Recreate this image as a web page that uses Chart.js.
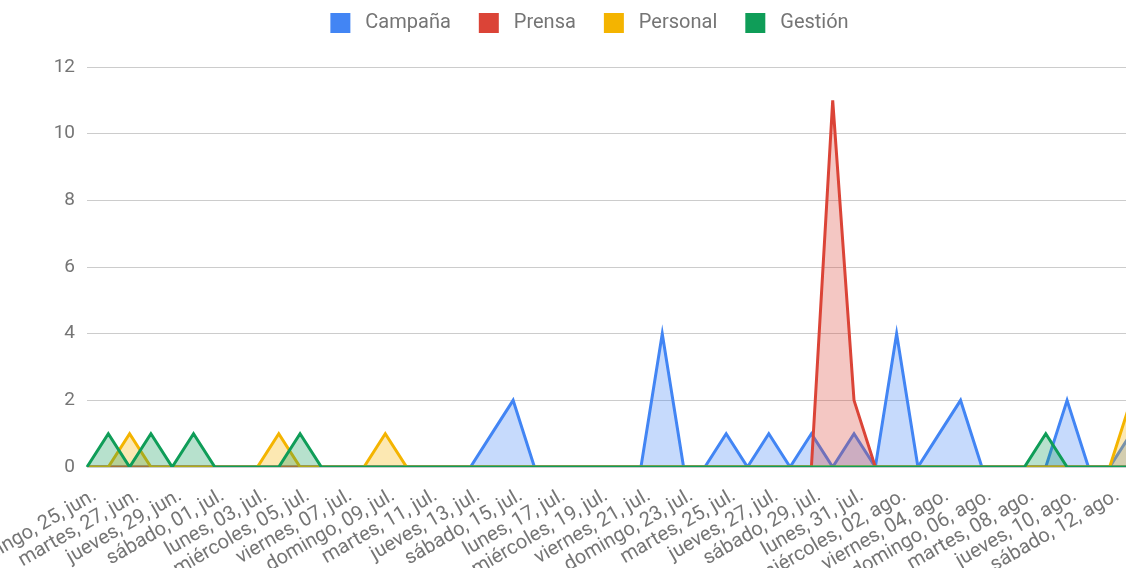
<!DOCTYPE html>
<html lang="es">
<head>
<meta charset="utf-8">
<title>Campaña, Prensa, Personal, Gestión</title>
<script src="https://cdn.jsdelivr.net/npm/chart.js@4.4.1/dist/chart.umd.min.js"></script>
<style>
  html, body { margin: 0; padding: 0; background: #ffffff; overflow: hidden; }
  #wrap { position: relative; width: 1164px; height: 568px; }
</style>
</head>
<body>
<div id="wrap"><canvas id="chart"></canvas></div>
<script>
// Daily categories, 25 jun. – 13 ago.
const dias = [
  'domingo, 25, jun.', 'lunes, 26, jun.', 'martes, 27, jun.', 'miércoles, 28, jun.', 'jueves, 29, jun.',
  'viernes, 30, jun.', 'sábado, 01, jul.', 'domingo, 02, jul.', 'lunes, 03, jul.', 'martes, 04, jul.',
  'miércoles, 05, jul.', 'jueves, 06, jul.', 'viernes, 07, jul.', 'sábado, 08, jul.', 'domingo, 09, jul.',
  'lunes, 10, jul.', 'martes, 11, jul.', 'miércoles, 12, jul.', 'jueves, 13, jul.', 'viernes, 14, jul.',
  'sábado, 15, jul.', 'domingo, 16, jul.', 'lunes, 17, jul.', 'martes, 18, jul.', 'miércoles, 19, jul.',
  'jueves, 20, jul.', 'viernes, 21, jul.', 'sábado, 22, jul.', 'domingo, 23, jul.', 'lunes, 24, jul.',
  'martes, 25, jul.', 'miércoles, 26, jul.', 'jueves, 27, jul.', 'viernes, 28, jul.', 'sábado, 29, jul.',
  'domingo, 30, jul.', 'lunes, 31, jul.', 'martes, 01, ago.', 'miércoles, 02, ago.', 'jueves, 03, ago.',
  'viernes, 04, ago.', 'sábado, 05, ago.', 'domingo, 06, ago.', 'lunes, 07, ago.', 'martes, 08, ago.',
  'miércoles, 09, ago.', 'jueves, 10, ago.', 'viernes, 11, ago.', 'sábado, 12, ago.', 'domingo, 13, ago.'
];

const campana = [
  0, 0, 0, 0, 0,  0, 0, 0, 0, 0,  0, 0, 0, 0, 0,  0, 0, 0, 0, 1,
  2, 0, 0, 0, 0,  0, 0, 4, 0, 0,  1, 0, 1, 0, 1,  0, 1, 0, 4, 0,
  1, 2, 0, 0, 0,  0, 2, 0, 0, 1
];
const prensa = [
  0, 0, 0, 0, 0,  0, 0, 0, 0, 0,  0, 0, 0, 0, 0,  0, 0, 0, 0, 0,
  0, 0, 0, 0, 0,  0, 0, 0, 0, 0,  0, 0, 0, 0, 0, 11, 2, 0, 0, 0,
  0, 0, 0, 0, 0,  0, 0, 0, 0, 0
];
const personal = [
  0, 0, 1, 0, 0,  0, 0, 0, 0, 1,  0, 0, 0, 0, 1,  0, 0, 0, 0, 0,
  0, 0, 0, 0, 0,  0, 0, 0, 0, 0,  0, 0, 0, 0, 0,  0, 0, 0, 0, 0,
  0, 0, 0, 0, 0,  0, 0, 0, 0, 2
];
const gestion = [
  0, 1, 0, 1, 0,  1, 0, 0, 0, 0,  1, 0, 0, 0, 0,  0, 0, 0, 0, 0,
  0, 0, 0, 0, 0,  0, 0, 0, 0, 0,  0, 0, 0, 0, 0,  0, 0, 0, 0, 0,
  0, 0, 0, 0, 0,  1, 0, 0, 0, 0
];

const ejeY = { min: 0, max: 12, paso: 2 };

const series = [
  { nombre: 'Campaña',  datos: campana,  color: '#4285F4', relleno: 'rgba(66,133,244,0.30)' },
  { nombre: 'Prensa',   datos: prensa,   color: '#DB4437', relleno: 'rgba(219,68,55,0.30)' },
  { nombre: 'Personal', datos: personal, color: '#F4B400', relleno: 'rgba(244,180,0,0.30)' },
  { nombre: 'Gestión',  datos: gestion,  color: '#0F9D58', relleno: 'rgba(15,157,88,0.30)' }
];

// Legend swatch: a 20px square set inside a 40px-wide slot
function swatch(color) {
  const c = document.createElement('canvas');
  c.width = 40; c.height = 20;
  const g = c.getContext('2d');
  g.fillStyle = color;
  g.fillRect(15, 0, 20, 20);
  return c;
}
const swatches = series.map(s => swatch(s.color));

// Reserve a fixed band above the plot for the legend
const ALTO_LEYENDA = 67;
const bandaLeyenda = {
  id: 'bandaLeyenda',
  afterInit(chart) {
    const legend = chart.legend;
    if (!legend) return;
    const fitOriginal = legend.fit;
    legend.fit = function () {
      fitOriginal.call(this);
      this.height = ALTO_LEYENDA;
    };
  }
};

const GRIS_TEXTO = '#757575';
const FUENTE = 'Roboto, "Noto Sans", Arial, sans-serif';

new Chart(document.getElementById('chart'), {
  type: 'line',
  data: {
    labels: dias,
    datasets: series.map((s, i) => ({
      label: s.nombre,
      data: s.datos,
      borderColor: s.color,
      backgroundColor: s.relleno,
      borderWidth: 3,
      fill: 'origin',
      tension: 0,
      pointRadius: 0,
      pointHoverRadius: 0,
      order: series.length - i   // later series are painted above earlier ones
    }))
  },
  plugins: [bandaLeyenda],
  options: {
    responsive: true,
    maintainAspectRatio: false,
    animation: false,
    events: [],
    layout: { padding: 0 },
    plugins: {
      tooltip: { enabled: false },
      legend: {
        position: 'top',
        align: 'center',
        labels: {
          usePointStyle: true,
          pointStyleWidth: 40,
          padding: 13,
          color: GRIS_TEXTO,
          font: { family: FUENTE, size: 20 },
          sort: (a, b) => a.datasetIndex - b.datasetIndex,
          generateLabels(chart) {
            const items = Chart.defaults.plugins.legend.labels.generateLabels(chart);
            items.forEach(it => { it.pointStyle = swatches[it.datasetIndex]; });
            return items;
          }
        }
      }
    },
    scales: {
      x: {
        type: 'category',
        offset: false,
        grid: { display: false, drawTicks: false },
        border: { display: false },
        ticks: {
          autoSkip: false,
          maxRotation: 30,
          minRotation: 30,
          padding: 17,
          labelOffset: 8,
          color: GRIS_TEXTO,
          font: { family: FUENTE, size: 20 },
          callback(value, index) {
            return index % 2 === 0 ? this.getLabelForValue(value) : '';
          }
        },
        afterFit(scale) {
          scale.height = 101;
          scale.paddingLeft = 0;
          scale.paddingRight = 33;
        }
      },
      y: {
        min: ejeY.min,
        max: ejeY.max,
        grid: { color: '#cccccc', lineWidth: 1, drawTicks: false },
        border: { display: false },
        ticks: {
          stepSize: ejeY.paso,
          padding: 12,
          color: GRIS_TEXTO,
          font: { family: FUENTE, size: 19 }
        },
        afterFit(scale) {
          scale.width = 87;
        }
      }
    }
  }
});
</script>
</body>
</html>
